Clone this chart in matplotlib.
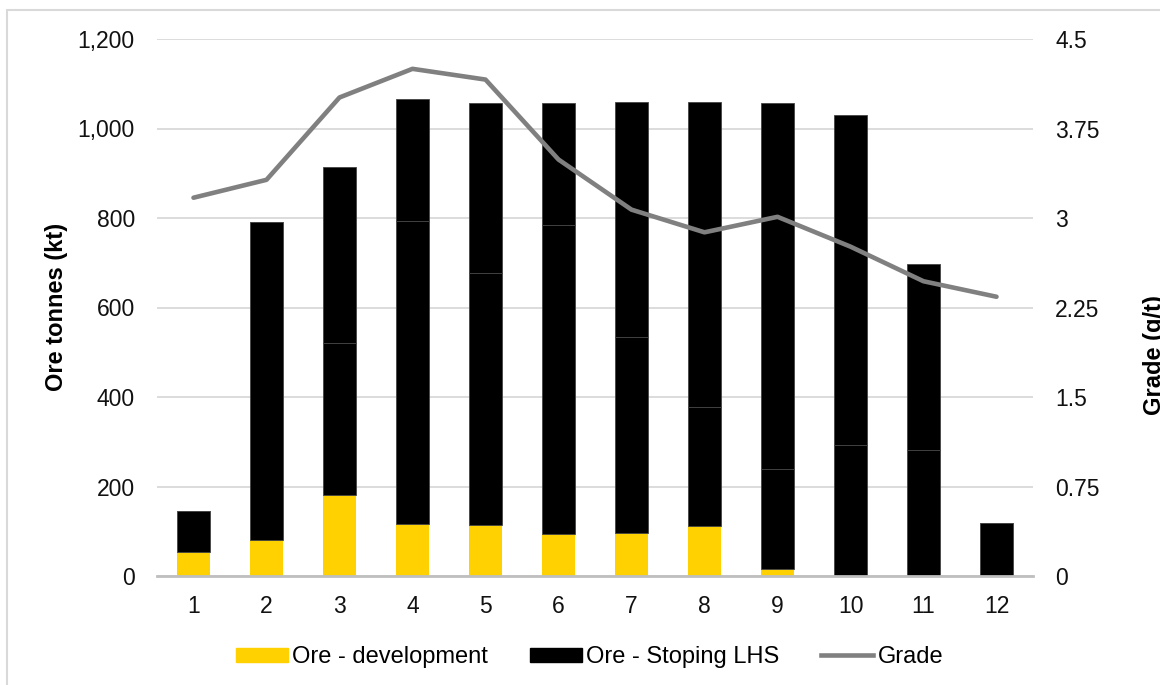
import numpy as np
import matplotlib.pyplot as plt
from matplotlib.patches import Patch, Rectangle
from matplotlib.lines import Line2D
from matplotlib.ticker import FuncFormatter

plt.rcParams['font.family'] = ['Liberation Sans', 'DejaVu Sans']

periods = [1, 2, 3, 4, 5, 6, 7, 8, 9, 10, 11, 12]
ore_dev = [54, 81, 182, 117, 115, 94, 97, 112, 15, 0, 0, 0]
# stoping LHS is drawn as two black blocks (thin seam between them)
stope_lower = [91, 710, 338, 676, 561, 690, 436, 266, 223, 292, 281, 118]
stope_upper = [0, 0, 395, 273, 380, 274, 527, 681, 820, 739, 417, 0]
grade = [3.17, 3.32, 4.01, 4.25, 4.16, 3.49, 3.07, 2.88, 3.01, 2.76, 2.47, 2.34]

yellow = '#FFD100'
fs = 16.5

fig = plt.figure(figsize=(11.6, 6.85), dpi=100)
ax = fig.add_axes([157 / 1160, 1 - 576 / 685, (1033 - 157) / 1160, (576 - 39) / 685])
ax2 = ax.twinx()

x = np.array(periods)
w = 0.45
dev = np.array(ore_dev)
low = np.array(stope_lower)
up = np.array(stope_upper)

ax.bar(x, dev, w, color=yellow, zorder=3)
ax.bar(x, low, w, bottom=dev, color='black', edgecolor='#444444', linewidth=0.6, zorder=3)
ax.bar(x, up, w, bottom=dev + low, color='black', edgecolor='#444444', linewidth=0.6, zorder=3)

ax2.plot(x, grade, color='#808080', lw=3.3, solid_capstyle='round', solid_joinstyle='round', zorder=4)

ax.set_xlim(0.5, 12.5)
ax.set_ylim(0, 1200)
ax.set_yticks(np.arange(0, 1201, 200))
ax.yaxis.set_major_formatter(FuncFormatter(lambda v, p: f'{int(v):,}'))
ax2.set_ylim(0, 4.5)
ax2.set_yticks([0, 0.75, 1.5, 2.25, 3, 3.75, 4.5])
ax2.set_yticklabels(['0', '0.75', '1.5', '2.25', '3', '3.75', '4.5'])
ax.set_xticks(x)
ax.set_xticklabels([str(p) for p in periods])

ax.grid(axis='y', color='#d9d9d9', lw=1.3, zorder=0)
ax.set_axisbelow(True)
for a in (ax, ax2):
    for s in a.spines.values():
        s.set_visible(False)
ax.spines['bottom'].set_visible(True)
ax.spines['bottom'].set_color('#bfbfbf')
ax.spines['bottom'].set_linewidth(2)
ax.spines['bottom'].set_zorder(5)

ax.tick_params(axis='y', length=0, pad=16, labelsize=fs, labelcolor='#111111')
ax.tick_params(axis='x', length=0, pad=14, labelsize=fs, labelcolor='#111111')
ax2.tick_params(axis='y', length=0, pad=16, labelsize=fs, labelcolor='#111111')

fig.text(56 / 1160, 1 - 307 / 685, 'Ore tonnes (kt)', rotation=90, ha='center', va='center',
         fontsize=17, fontweight='bold')
# right label sits at the edge, cropped like in the source chart
fig.text(1155 / 1160, 1 - 355 / 685, 'Grade (g/t)', rotation=90, ha='center', va='center',
         fontsize=17, fontweight='bold')

handles = [Patch(color=yellow, label='Ore - development'),
           Patch(color='black', label='Ore - Stoping LHS'),
           Line2D([], [], color='#808080', lw=3.3, label='Grade')]
fig.legend(handles=handles, loc='center', bbox_to_anchor=(589.5 / 1160, 1 - 657 / 685), ncol=3,
           frameon=False, fontsize=17, handlelength=2.2, handleheight=0.55,
           handletextpad=0.2, columnspacing=1.75)

# outer chart border (partly cropped in the original)
fig.patches.append(Rectangle((7 / 1160, -0.2), 1.2, 1.2 - 10 / 685, transform=fig.transFigure,
                             fill=False, edgecolor='#d9d9d9', lw=1.5))

fig.savefig('out.png', dpi=100)
